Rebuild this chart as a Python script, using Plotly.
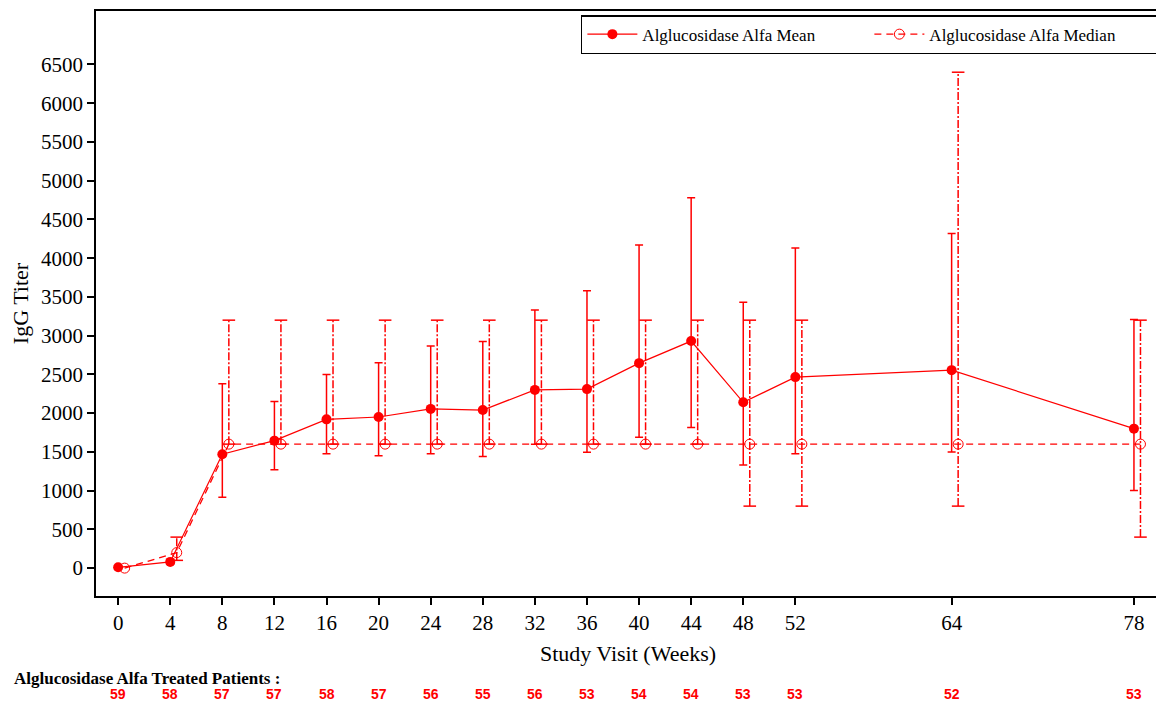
import plotly.graph_objects as go

# ---------------- data ----------------
weeks = [0, 4, 8, 12, 16, 20, 24, 28, 32, 36, 40, 44, 48, 52, 64, 78]
mean_vals = [10, 80, 1470, 1645, 1920, 1950, 2055, 2040, 2300, 2310, 2645, 2930, 2140, 2465, 2555, 1800]
mean_hi = [20, 110, 2380, 2150, 2500, 2650, 2865, 2925, 3330, 3580, 4170, 4780, 3430, 4130, 4320, 3210]
mean_lo = [0, 50, 915, 1270, 1475, 1450, 1475, 1440, 1600, 1495, 1690, 1815, 1330, 1475, 1500, 1000]
median_vals = [0, 200, 1600, 1600, 1600, 1600, 1600, 1600, 1600, 1600, 1600, 1600, 1600, 1600, 1600, 1600]
median_hi = [0, 400, 3200, 3200, 3200, 3200, 3200, 3200, 3200, 3200, 3200, 3200, 3200, 3200, 6400, 3200]
median_lo = [0, 100, 1600, 1600, 1600, 1600, 1600, 1600, 1600, 1600, 1600, 1600, 800, 800, 800, 400]
patients = [59, 58, 57, 57, 58, 57, 56, 55, 56, 53, 54, 54, 53, 53, 52, 53]
tick_weeks = [0, 4, 8, 12, 16, 20, 24, 28, 32, 36, 40, 44, 48, 52, 64, 78]
median_offset = 0.5

RED = "#ff0000"
SERIF = "Liberation Serif, Times New Roman, serif"

fig = go.Figure()

# Mean series with solid error bars
fig.add_trace(go.Scatter(
    x=weeks, y=mean_vals, mode="lines+markers",
    name="Alglucosidase Alfa Mean",
    line=dict(color=RED, width=1.2),
    marker=dict(symbol="circle", size=10, color=RED),
    error_y=dict(type="data", symmetric=False,
                 array=[h - m for h, m in zip(mean_hi, mean_vals)],
                 arrayminus=[m - l for m, l in zip(mean_vals, mean_lo)],
                 color=RED, thickness=1.5, width=4),
))

# Median error bars (dash-dot vertical lines + caps)
mx = [w + median_offset for w in weeks]
seg_x, seg_y, cap_x, cap_y = [], [], [], []
for x, lo, hi in zip(mx, median_lo, median_hi):
    if hi > lo:
        seg_x += [x, x, None]
        seg_y += [lo, hi, None]
        cap_x += [x, x]
        cap_y += [lo, hi]
fig.add_trace(go.Scatter(
    x=seg_x, y=seg_y, mode="lines", showlegend=False, hoverinfo="skip",
    line=dict(color=RED, width=1.5, dash="8px,2px,2px,2px"),
))
fig.add_trace(go.Scatter(
    x=cap_x, y=cap_y, mode="markers", showlegend=False, hoverinfo="skip",
    marker=dict(symbol="line-ew", size=9, line=dict(color=RED, width=1.5)),
))

# Median series
fig.add_trace(go.Scatter(
    x=mx, y=median_vals, mode="lines+markers",
    name="Alglucosidase Alfa Median",
    line=dict(color=RED, width=1.3, dash="7px,5px"),
    marker=dict(symbol="circle-open", size=10, color=RED, line=dict(width=1)),
))

# Patient counts
annotations = [dict(
    text="<b>Alglucosidase Alfa Treated Patients :</b>",
    xref="paper", yref="paper", x=-0.079, y=-0.141,
    xanchor="left", yanchor="middle", showarrow=False,
    font=dict(family=SERIF, size=17, color="black"),
)]
for w, n in zip(weeks, patients):
    annotations.append(dict(
        text=f"<b>{n}</b>", xref="x", yref="paper", x=w, y=-0.168,
        xanchor="center", yanchor="middle", showarrow=False,
        font=dict(family="Liberation Sans Narrow, Liberation Sans, Arial Narrow, sans-serif",
                  size=14, color=RED),
    ))

fig.update_layout(
    width=1156, height=698,
    margin=dict(l=88, r=4, t=1, b=110),
    paper_bgcolor="white", plot_bgcolor="white",
    font=dict(family=SERIF, color="black"),
    showlegend=True,
    legend=dict(
        orientation="h", x=0.998, y=0.993, xanchor="right", yanchor="top",
        bordercolor="black", borderwidth=1.5, bgcolor="white",
        font=dict(family=SERIF, size=17, color="black"),
        entrywidth=222, entrywidthmode="pixels",
        itemwidth=50,
    ),
    xaxis=dict(
        range=[-1.7, 80], tickmode="array", tickvals=tick_weeks,
        ticktext=[str(t) for t in tick_weeks],
        showgrid=False, zeroline=False,
        showline=True, linecolor="black", linewidth=1.5, mirror=True,
        ticks="outside", ticklen=7, tickwidth=1.5, tickcolor="black",
        tickfont=dict(family=SERIF, size=21),
        title=dict(text="Study Visit (Weeks)", font=dict(family=SERIF, size=22), standoff=12),
    ),
    yaxis=dict(
        range=[-360, 7190], tickmode="array",
        tickvals=list(range(0, 6501, 500)),
        showgrid=False, zeroline=False,
        showline=True, linecolor="black", linewidth=1.5, mirror=True,
        ticks="outside", ticklen=7, tickwidth=1.5, tickcolor="black",
        tickfont=dict(family=SERIF, size=21),
        title=dict(text="IgG Titer", font=dict(family=SERIF, size=22), standoff=8),
    ),
    annotations=annotations,
)

fig.write_html("out.html")
